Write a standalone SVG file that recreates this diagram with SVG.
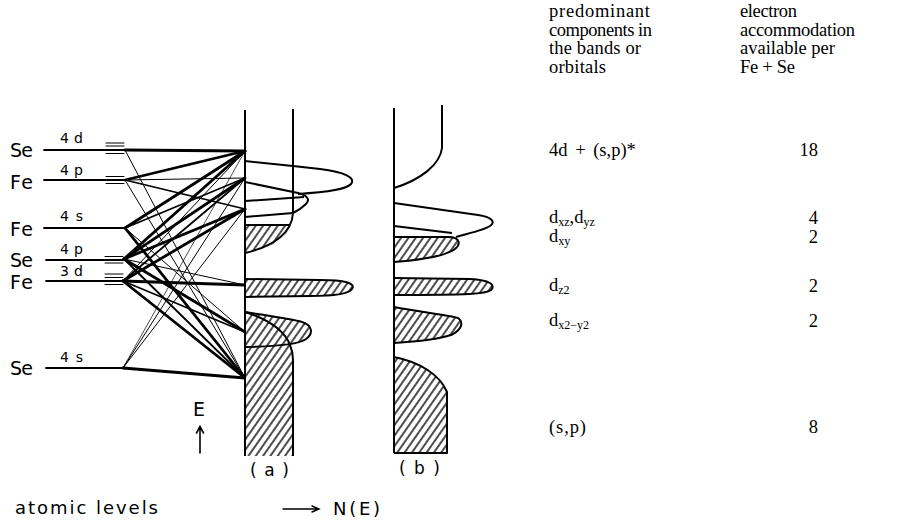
<svg xmlns="http://www.w3.org/2000/svg" width="904" height="523" viewBox="0 0 904 523">
<style>
.lbl{font-family:"DejaVu Sans","Liberation Sans",sans-serif;fill:#000}
.big{font-size:19px}
.sm{font-size:14px}
.ser{font-family:"Liberation Serif","Times New Roman",serif;font-size:18.5px;fill:#000}
.sub{font-size:12px}
.ln{stroke:#000;fill:none;stroke-linecap:round}
.lev{stroke-width:1.8}
.tick{stroke-width:1}
.thick{stroke-width:2.8}
.med{stroke-width:1.8}
.thin{stroke-width:1}
.hair{stroke-width:0.7}
.dos{stroke:#000;stroke-width:2;fill:none;stroke-linejoin:round}
.hat{stroke:#000;stroke-width:2;fill:url(#hatch);stroke-linejoin:round}
.nof{stroke:none;fill:url(#hatch)}
</style>
<defs>
<pattern id="hatch" patternUnits="userSpaceOnUse" width="6" height="6" patternTransform="rotate(35)">
<rect width="6" height="6" fill="#fff"/>
<line x1="3" y1="-1" x2="3" y2="7" stroke="#000" stroke-width="1.4"/>
</pattern>
</defs>
<rect width="904" height="523" fill="#fff"/>

<!-- atomic levels -->
<g id="level-se4d">
<text class="lbl big" x="10" y="157" textLength="23">Se</text>
<text class="lbl sm" x="60" y="143" textLength="23">4 d</text>
<line class="ln lev" x1="44" y1="150" x2="125" y2="150"/>
<path class="ln tick" d="M106,143H124M106,146H124M106,153.5H124"/>
</g>
<g id="level-fe4p">
<text class="lbl big" x="10" y="189" textLength="23">Fe</text>
<text class="lbl sm" x="60" y="175" textLength="23">4 p</text>
<line class="ln lev" x1="44" y1="180" x2="125" y2="180"/>
<path class="ln tick" d="M106,176.5H124M106,183.5H124"/>
</g>
<g id="level-fe4s">
<text class="lbl big" x="10" y="236" textLength="23">Fe</text>
<text class="lbl sm" x="60" y="221" textLength="23">4 s</text>
<line class="ln lev" x1="44" y1="228" x2="125" y2="228"/>
</g>
<g id="level-se4p">
<text class="lbl big" x="10" y="267" textLength="23">Se</text>
<text class="lbl sm" x="60" y="254" textLength="23">4 p</text>
<line class="ln lev" x1="46" y1="260" x2="124" y2="260"/>
<path class="ln tick" d="M105,256.5H123M105,263H123"/>
</g>
<g id="level-fe3d">
<text class="lbl big" x="10" y="289" textLength="23">Fe</text>
<text class="lbl sm" x="60" y="276" textLength="23">3 d</text>
<line class="ln lev" x1="46" y1="281" x2="123" y2="281"/>
<path class="ln tick" d="M105,274H123M105,277.5H123M105,284.5H123"/>
</g>
<g id="level-se4s">
<text class="lbl big" x="10" y="375" textLength="23">Se</text>
<text class="lbl sm" x="60" y="362" textLength="23">4 s</text>
<line class="ln lev" x1="46" y1="368" x2="123" y2="368"/>
</g>

<!-- connectors: atomic levels to bands -->
<g id="connectors">
<!-- Se 4d -->
<line class="ln thick" x1="125" y1="150" x2="245" y2="151"/>
<line class="ln thin" x1="125" y1="150" x2="245" y2="378"/>
<!-- Fe 4p -->
<line class="ln thick" x1="125" y1="180" x2="245" y2="151"/>
<line class="ln thin" x1="125" y1="180" x2="245" y2="178"/>
<line class="ln med" x1="125" y1="180" x2="245" y2="209"/>
<line class="ln thin" x1="125" y1="180" x2="245" y2="378"/>
<!-- Fe 4s -->
<line class="ln thick" x1="125" y1="228" x2="245" y2="151"/>
<line class="ln med" x1="125" y1="228" x2="245" y2="178"/>
<line class="ln thick" x1="125" y1="228" x2="245" y2="378"/>
<line class="ln thin" x1="125" y1="228" x2="245" y2="332"/>
<!-- Se 4p -->
<line class="ln thick" x1="124" y1="259" x2="245" y2="151"/>
<line class="ln thick" x1="124" y1="259" x2="245" y2="178"/>
<line class="ln thick" x1="124" y1="259" x2="245" y2="209"/>
<line class="ln thin" x1="124" y1="259" x2="245" y2="285"/>
<line class="ln thick" x1="124" y1="259" x2="245" y2="332"/>
<line class="ln med" x1="124" y1="259" x2="245" y2="378"/>
<!-- Fe 3d -->
<line class="ln thin" x1="123" y1="281" x2="245" y2="151"/>
<line class="ln med" x1="123" y1="281" x2="245" y2="178"/>
<line class="ln thick" x1="123" y1="281" x2="245" y2="209"/>
<line class="ln thick" x1="123" y1="281" x2="245" y2="285"/>
<line class="ln med" x1="123" y1="281" x2="245" y2="332"/>
<line class="ln thick" x1="123" y1="281" x2="245" y2="378"/>
<!-- Se 4s -->
<line class="ln hair" x1="123" y1="368" x2="245" y2="151"/>
<line class="ln thin" x1="123" y1="368" x2="245" y2="178"/>
<line class="ln thin" x1="123" y1="368" x2="245" y2="209"/>
<line class="ln thick" x1="123" y1="368" x2="245" y2="378"/>
</g>

<!-- density of states (a) -->
<g id="dos-a">
<path class="nof" d="M245,225 L290,225 C287,238 272,248 245,253 Z"/>
<path class="nof" d="M245,312 C270,320 285,332 290,345 Q293,352 293,360 L293,456 L245,456 Z"/>
<path class="hat" d="M245,279 L320,280 C345,280 356,283 352,289 C349,294 335,296 310,296 L245,297"/>
<path class="hat" d="M245,312 C270,316 292,319 302,322 C312,325 314,333 306,339 C300,343 290,346 245,347"/>
<path class="dos" d="M245,312 C270,320 285,332 290,345 Q293,352 293,360 L293,456"/>
<path class="dos" d="M293,109 L293,213 C292,232 275,246 245,253"/>
<path class="dos" d="M245,161 L293,166 L320,169 C345,172 356,178 351,184 C347,189 330,192 298,194"/>
<path class="dos" d="M245,182 L298,193 C306,195 311,199 306,204 C302,208 297,211 293,213"/>
<path class="dos" d="M245,201 L304,197"/>
<path class="dos" d="M245,217 L293,213"/>
<path class="dos" d="M245,225 L290,225"/>
<line class="dos" x1="245" y1="110" x2="245" y2="456"/>
<text class="lbl" style="font-size:17px" x="250" y="476" textLength="39">(a)</text>
</g>

<!-- density of states (b) -->
<g id="dos-b">
<path class="hat" d="M394,237 L450,237 C460,238 461,244 455,249 C445,256 420,260 394,262"/>
<path class="hat" d="M394,278 L470,279 C490,280 496,285 491,290 C486,294 470,295 394,295"/>
<path class="hat" d="M394,307 C420,312 450,315 458,318 C464,322 462,330 451,335 C436,340 410,342 394,343"/>
<path class="hat" d="M394,357 C420,362 440,375 447,392 L447,453 L394,453"/>
<path class="dos" d="M442,105 L442,148 C440,165 420,180 394,188"/>
<path class="dos" d="M394,203 L478,215 C492,217 496,222 490,226 C484,230 470,233 456,237"/>
<path class="dos" d="M394,226 L452,233"/>
<line class="dos" x1="394" y1="108" x2="394" y2="453"/>
<text class="lbl" style="font-size:17px" x="399" y="474" textLength="41">(b)</text>
</g>

<!-- axes labels -->
<g id="axis-labels">
<text class="lbl big" x="193" y="416">E</text>
<path class="ln" style="stroke-width:1.6" d="M200,453 L200,427 M196.5,433 L200,426.5 L203.5,433"/>
<path class="ln" style="stroke-width:1.4" d="M283,509 L318,509 M312,506 L319,509 L312,512"/>
<text class="lbl" style="font-size:18px" x="333" y="515" textLength="47">N(E)</text>
<text class="lbl" style="font-size:18px" x="15" y="514" textLength="143">atomic levels</text>
</g>

<!-- table -->
<g id="table">
<text class="ser" x="549" y="17" textLength="101">predominant</text>
<text class="ser" x="549" y="35.5" textLength="103">components in</text>
<text class="ser" x="549" y="54" textLength="92">the bands or</text>
<text class="ser" x="549" y="72.5" textLength="57">orbitals</text>
<text class="ser" x="740" y="17" textLength="57">electron</text>
<text class="ser" x="740" y="35.5" textLength="115">accommodation</text>
<text class="ser" x="740" y="54" textLength="95">available per</text>
<text class="ser" x="740" y="72.5" textLength="55">Fe + Se</text>

<text class="ser" x="549" y="156" style="word-spacing:3px">4d + (s,p)*</text>
<text class="ser" x="818" y="156" text-anchor="end">18</text>

<text class="ser" x="549" y="223">d<tspan class="sub" dy="3">xz</tspan><tspan dy="-3">,d</tspan><tspan class="sub" dy="3">yz</tspan></text>
<text class="ser" x="818" y="224" text-anchor="end">4</text>

<text class="ser" x="549" y="242">d<tspan class="sub" dy="3">xy</tspan></text>
<text class="ser" x="818" y="243" text-anchor="end">2</text>

<text class="ser" x="549" y="291">d<tspan class="sub" dy="3">z2</tspan></text>
<text class="ser" x="818" y="292" text-anchor="end">2</text>

<text class="ser" x="549" y="326">d<tspan class="sub" dy="3">x2−y2</tspan></text>
<text class="ser" x="818" y="327" text-anchor="end">2</text>

<text class="ser" x="549" y="433" textLength="37">(s,p)</text>
<text class="ser" x="818" y="433" text-anchor="end">8</text>
</g>
</svg>
